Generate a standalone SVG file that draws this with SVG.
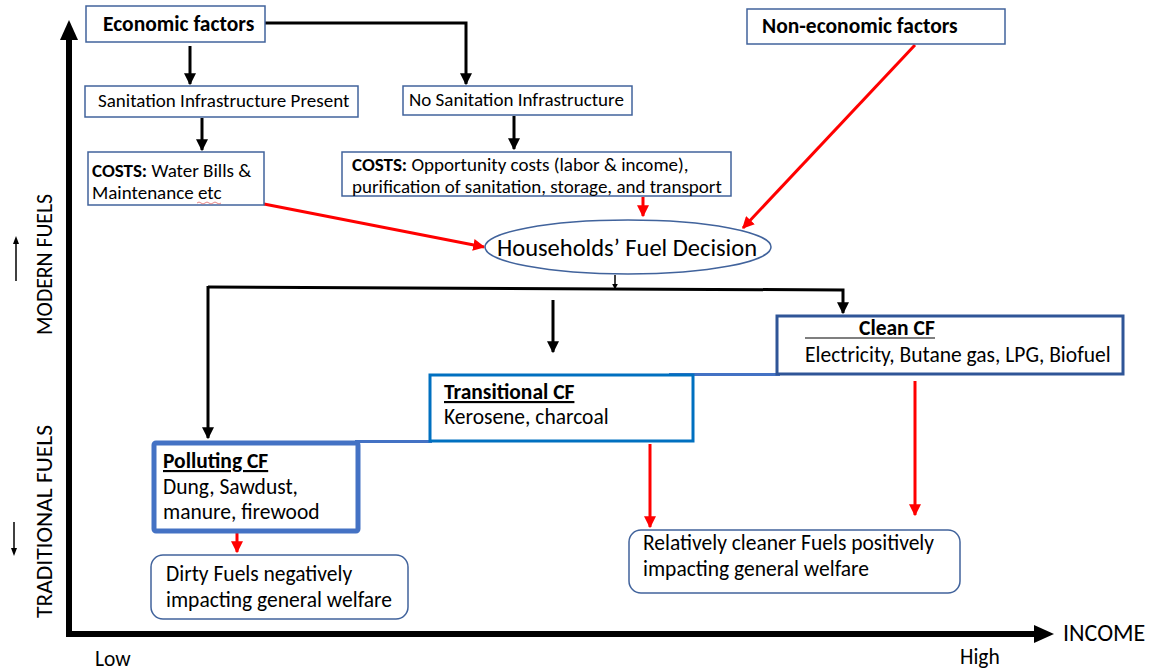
<svg xmlns="http://www.w3.org/2000/svg" width="1153" height="672" viewBox="0 0 1153 672">
<style>
text{font-family:Carlito,Lato,"Liberation Sans",sans-serif;fill:#000}
.b{font-weight:bold}
.box{fill:#fff;stroke:#41639C;stroke-width:1.5}
.blk{stroke:#000;stroke-width:3;fill:none}
.red{stroke:#FF0000;stroke-width:3;fill:none}
.f15{font-size:19px}
.f17{font-size:21.5px}
.ax{font-size:22px}
</style>
<defs>
<marker id="ab" viewBox="0 0 10 10" refX="9" refY="5" markerWidth="4" markerHeight="4" orient="auto" markerUnits="strokeWidth"><path d="M0,0 L10,5 L0,10 z" fill="#000"/></marker>
<marker id="ar" viewBox="0 0 10 10" refX="9" refY="5" markerWidth="4" markerHeight="4" orient="auto" markerUnits="strokeWidth"><path d="M0,0 L10,5 L0,10 z" fill="#FF0000"/></marker>
</defs>
<rect width="1153" height="672" fill="#fff"/>

<g id="axes">
<line x1="69" y1="38" x2="69" y2="634" stroke="#000" stroke-width="6"/>
<polygon points="69,20 60,40 78,40" fill="#000"/>
<line x1="66" y1="634" x2="1035" y2="634" stroke="#000" stroke-width="6"/>
<polygon points="1054,634 1034,625 1034,643" fill="#000"/>
<text x="1063" y="641" style="font-size:24px">INCOME</text>
<text x="95" y="666" style="font-size:21.5px">Low</text>
<text x="960" y="664" style="font-size:21.5px">High</text>
<text transform="translate(52,335) rotate(-90)" class="ax" textLength="141" lengthAdjust="spacingAndGlyphs">MODERN FUELS</text>
<text transform="translate(52,618) rotate(-90)" class="ax" textLength="193" lengthAdjust="spacingAndGlyphs">TRADITIONAL FUELS</text>
<line x1="16" y1="281" x2="16" y2="242" stroke="#000" stroke-width="1.5"/>
<polygon points="16,236 13,244 19,244" fill="#000"/>
<line x1="14" y1="522" x2="14" y2="550" stroke="#000" stroke-width="1.5"/>
<polygon points="14,556 11,548 17,548" fill="#000"/>
</g>

<g id="connectors">
<polyline class="blk" points="265,23 466,23 466,84" marker-end="url(#ab)"/>
<line class="blk" x1="190" y1="46" x2="190" y2="84" marker-end="url(#ab)"/>
<line class="blk" x1="202" y1="118" x2="202" y2="150" marker-end="url(#ab)"/>
<line class="blk" x1="514" y1="116" x2="514" y2="149" marker-end="url(#ab)"/>
<line class="red" x1="643" y1="197" x2="643" y2="216" marker-end="url(#ar)"/>
<line class="red" x1="264" y1="204" x2="484" y2="247" marker-end="url(#ar)"/>
<line class="red" x1="915" y1="45" x2="743" y2="228" marker-end="url(#ar)"/>
<line x1="615" y1="275" x2="615" y2="289" stroke="#000" stroke-width="1.5" marker-end="url(#ab)"/>
<polyline class="blk" points="208,287 843,290 843,313" marker-end="url(#ab)"/>
<line class="blk" x1="208" y1="286" x2="208" y2="438" marker-end="url(#ab)"/>
<line class="blk" x1="553" y1="300" x2="553" y2="352" marker-end="url(#ab)"/>
<line x1="669" y1="374.5" x2="780" y2="374.5" stroke="#4472C4" stroke-width="3"/>
<line x1="355" y1="441.5" x2="432" y2="441.5" stroke="#4472C4" stroke-width="3"/>
<line class="red" x1="237" y1="533" x2="237" y2="552" marker-end="url(#ar)"/>
<line class="red" x1="650" y1="444" x2="650" y2="527" marker-end="url(#ar)"/>
<line class="red" x1="915" y1="381" x2="915" y2="515" marker-end="url(#ar)"/>
</g>

<g id="economic-factors">
<rect class="box" x="86" y="6" width="179" height="36"/>
<text x="103" y="31" class="b" style="font-size:21.5px">Economic factors</text>
</g>
<g id="non-economic-factors">
<rect class="box" x="747" y="9" width="258" height="35"/>
<text x="762" y="33" class="b" style="font-size:21.5px">Non-economic factors</text>
</g>
<g id="sanitation-present">
<rect class="box" x="85" y="86" width="273" height="31"/>
<text x="98" y="107" class="f15">Sanitation Infrastructure Present</text>
</g>
<g id="no-sanitation">
<rect class="box" x="403" y="86" width="229" height="29"/>
<text x="409" y="106" class="f15">No Sanitation Infrastructure</text>
</g>
<g id="costs-1">
<rect class="box" x="88" y="152" width="176" height="53"/>
<text x="92" y="177" class="f15"><tspan class="b">COSTS:</tspan> Water Bills &amp;</text>
<text x="92" y="199" class="f15">Maintenance etc</text>
<path d="M197,203 q2,-2 4,0 t4,0 t4,0 t4,0 t4,0 t4,0" stroke="#E06666" stroke-width="0.8" fill="none"/>
</g>
<g id="costs-2">
<rect class="box" x="342" y="152" width="389" height="44"/>
<text x="352" y="171" class="f15"><tspan class="b">COSTS:</tspan> Opportunity costs (labor &amp; income),</text>
<text x="352" y="193" class="f15">purification of sanitation, storage, and transport</text>
</g>
<g id="fuel-decision">
<ellipse cx="628" cy="247" rx="143" ry="27" fill="#fff" stroke="#41639C" stroke-width="1.5"/>
<text x="627" y="256" text-anchor="middle" style="font-size:24.5px">Households’ Fuel Decision</text>
</g>
<g id="clean-cf">
<rect x="777" y="316" width="346" height="58" fill="#fff" stroke="#2F5597" stroke-width="3"/>
<text x="859" y="335" class="b f17">Clean CF</text>
<line x1="805" y1="338" x2="935" y2="338" stroke="#000" stroke-width="1.2"/>
<text x="805" y="362" class="f17">Electricity, Butane gas, LPG, Biofuel</text>
</g>
<g id="transitional-cf">
<rect x="430" y="375" width="263" height="66" fill="#fff" stroke="#0070C0" stroke-width="3"/>
<text x="444" y="399" class="b f17" text-decoration="underline">Transitional CF</text>
<text x="444" y="424" class="f17">Kerosene, charcoal</text>
</g>
<g id="polluting-cf">
<rect x="154" y="443" width="204" height="88" rx="2" fill="#fff" stroke="#4472C4" stroke-width="5"/>
<text x="163" y="468" class="b f17" text-decoration="underline">Polluting CF</text>
<text x="163" y="494" class="f17">Dung, Sawdust,</text>
<text x="163" y="519" class="f17">manure, firewood</text>
</g>
<g id="dirty-fuels">
<rect class="box" x="151" y="555" width="257" height="64" rx="12"/>
<text x="166" y="581" class="f17">Dirty Fuels negatively</text>
<text x="166" y="607" class="f17">impacting general welfare</text>
</g>
<g id="cleaner-fuels">
<rect class="box" x="629" y="530" width="331" height="63" rx="12"/>
<text x="643" y="550" class="f17">Relatively cleaner Fuels positively</text>
<text x="643" y="576" class="f17">impacting general welfare</text>
</g>
</svg>
